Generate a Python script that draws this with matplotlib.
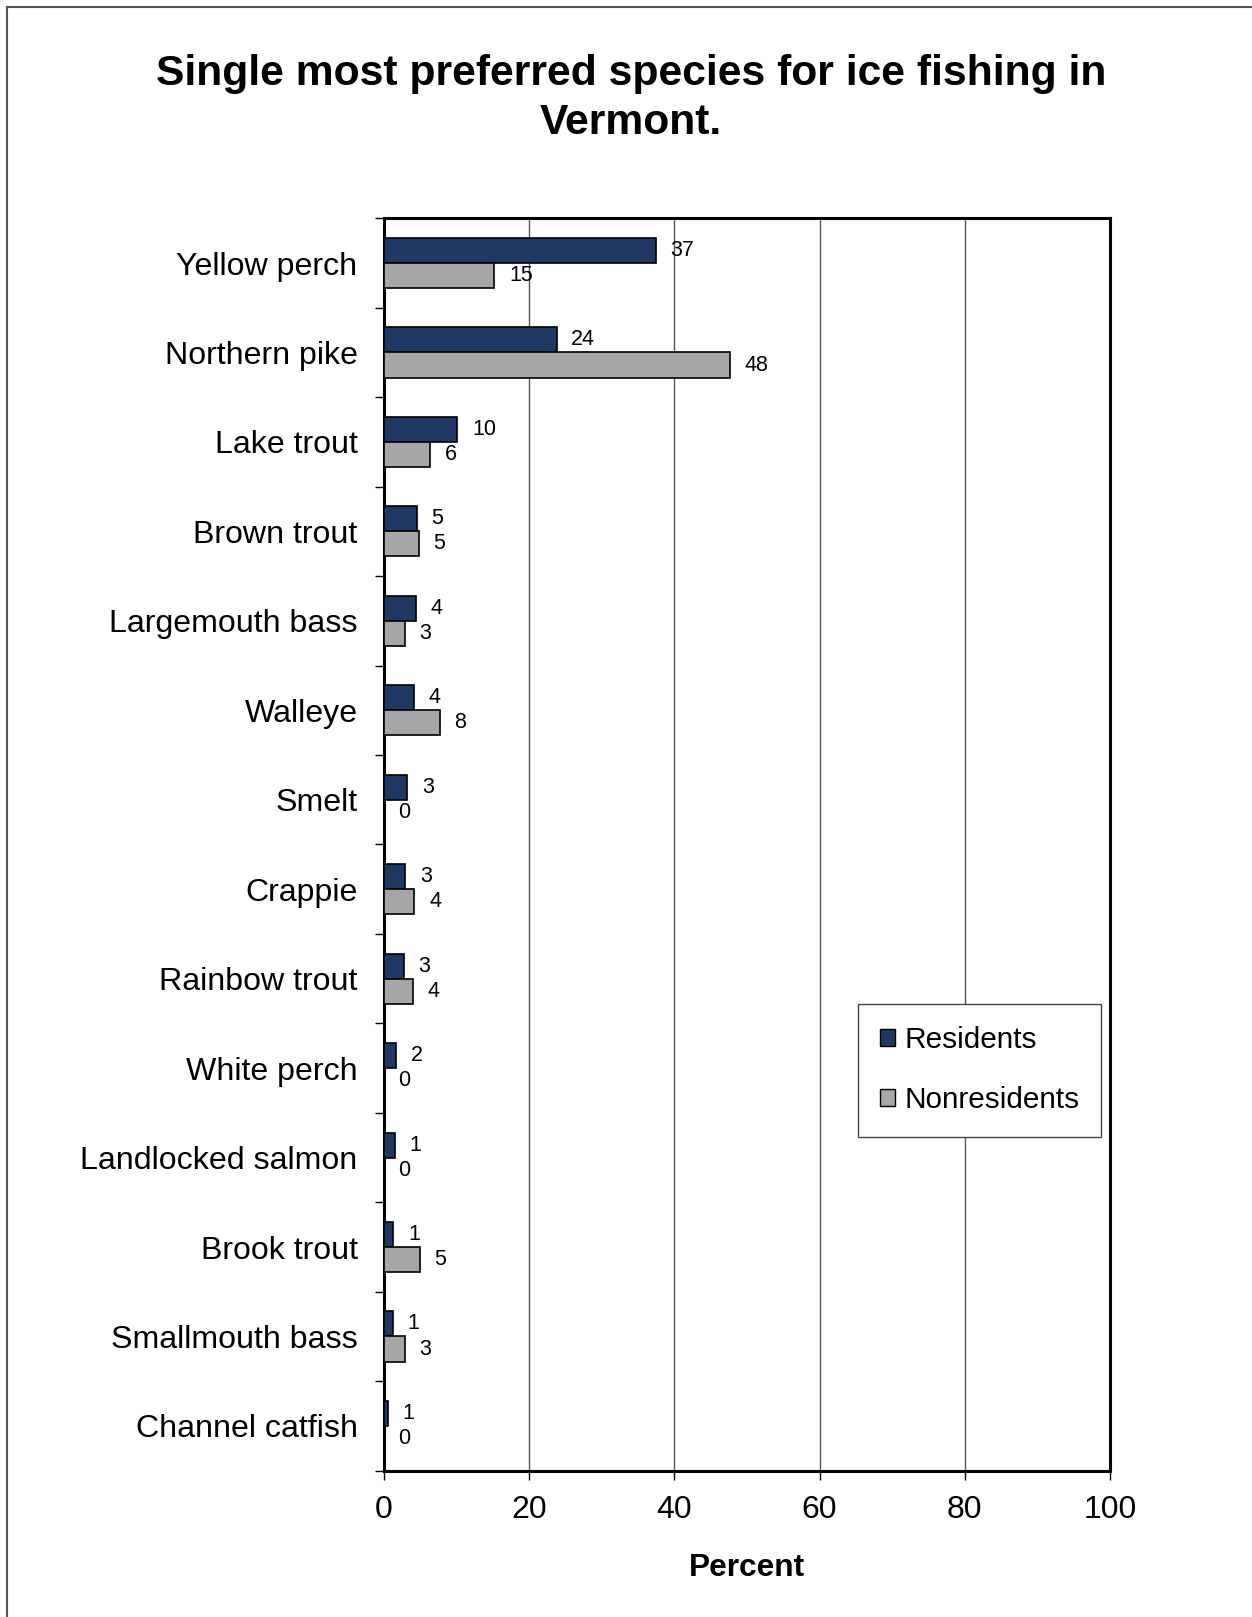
import numpy as np
import matplotlib
matplotlib.use("Agg")
import matplotlib.pyplot as plt
from matplotlib.lines import Line2D
from matplotlib.ticker import FixedLocator

plt.rcParams['font.family'] = ['Liberation Sans', 'DejaVu Sans']

species = ['Yellow perch', 'Northern pike', 'Lake trout', 'Brown trout',
           'Largemouth bass', 'Walleye', 'Smelt', 'Crappie', 'Rainbow trout',
           'White perch', 'Landlocked salmon', 'Brook trout',
           'Smallmouth bass', 'Channel catfish']
residents = [37.4, 23.8, 10.1, 4.55, 4.45, 4.1, 3.2, 2.95, 2.7, 1.7, 1.45, 1.3, 1.25, 0.55]
nonresidents = [15.2, 47.6, 6.4, 4.8, 2.9, 7.7, 0, 4.2, 4.0, 0, 0, 4.9, 2.85, 0]
xticks = [0, 20, 40, 60, 80, 100]

navy = '#203864'
grey = '#a6a6a6'

fig = plt.figure(figsize=(12.52, 16.17), dpi=100)
ax = fig.add_axes([0.3067, 0.0905, 0.5799, 0.7745])

y = np.arange(len(species))
h = 0.28
ax.barh(y - h / 2, residents, height=h, color=navy, edgecolor='black',
        linewidth=1.2, label='Residents', zorder=3)
ax.barh(y + h / 2, nonresidents, height=h, color=grey, edgecolor='black',
        linewidth=1.2, label='Nonresidents', zorder=3)

# value labels just past the end of each bar
for i in range(len(species)):
    for val, off in ((residents[i], -h / 2), (nonresidents[i], h / 2)):
        ax.annotate('%.0f' % val, (val, y[i] + off), xytext=(10.5, 0),
                    textcoords='offset points', ha='left', va='center',
                    fontsize=15.5)

ax.set_xlim(0, 100)
ax.set_ylim(len(species) - 0.5, -0.5)
ax.set_xticks(xticks)
ax.set_xticklabels([str(t) for t in xticks])
ax.set_yticks(y)
ax.set_yticklabels(species)
ax.yaxis.set_minor_locator(FixedLocator(np.arange(-0.5, len(species), 1)))
ax.tick_params(axis='y', which='major', length=0, pad=19, labelsize=23.1)
ax.tick_params(axis='y', which='minor', length=6.5, width=1, direction='out')
ax.tick_params(axis='x', length=6.5, width=1, direction='out', pad=11, labelsize=23)

ax.grid(axis='x', color='#555555', linewidth=1, zorder=0)
for s in ax.spines.values():
    s.set_linewidth(2.2)
    s.set_color('black')

ax.set_xlabel('Percent', fontsize=22.8, fontweight='bold', labelpad=20)

fig.text(0.504, 0.9392, 'Single most preferred species for ice fishing in\nVermont.',
         ha='center', va='center', fontsize=30.7, fontweight='bold', linespacing=1.28)

leg = ax.legend(loc='upper left', bbox_to_anchor=(858 / 1252, 1 - 1004 / 1617),
                bbox_transform=fig.transFigure, fontsize=21.4, frameon=True,
                fancybox=False, edgecolor='#444444', framealpha=1,
                handlelength=0.5, handleheight=0.5, handletextpad=0.3,
                labelspacing=1.08, borderpad=0.75, borderaxespad=0)
leg.get_frame().set_linewidth(1)
for p in leg.get_patches():
    p.set_linewidth(1)

# outer frame lines along the left and top edges
fig.add_artist(Line2D([7 / 1252, 7 / 1252], [0, 1 - 7 / 1617], color='#555555', lw=1.5,
                      transform=fig.transFigure))
fig.add_artist(Line2D([7 / 1252, 1], [1 - 7 / 1617, 1 - 7 / 1617], color='#555555', lw=1.5,
                      transform=fig.transFigure))

fig.savefig('out.png', dpi=100)
